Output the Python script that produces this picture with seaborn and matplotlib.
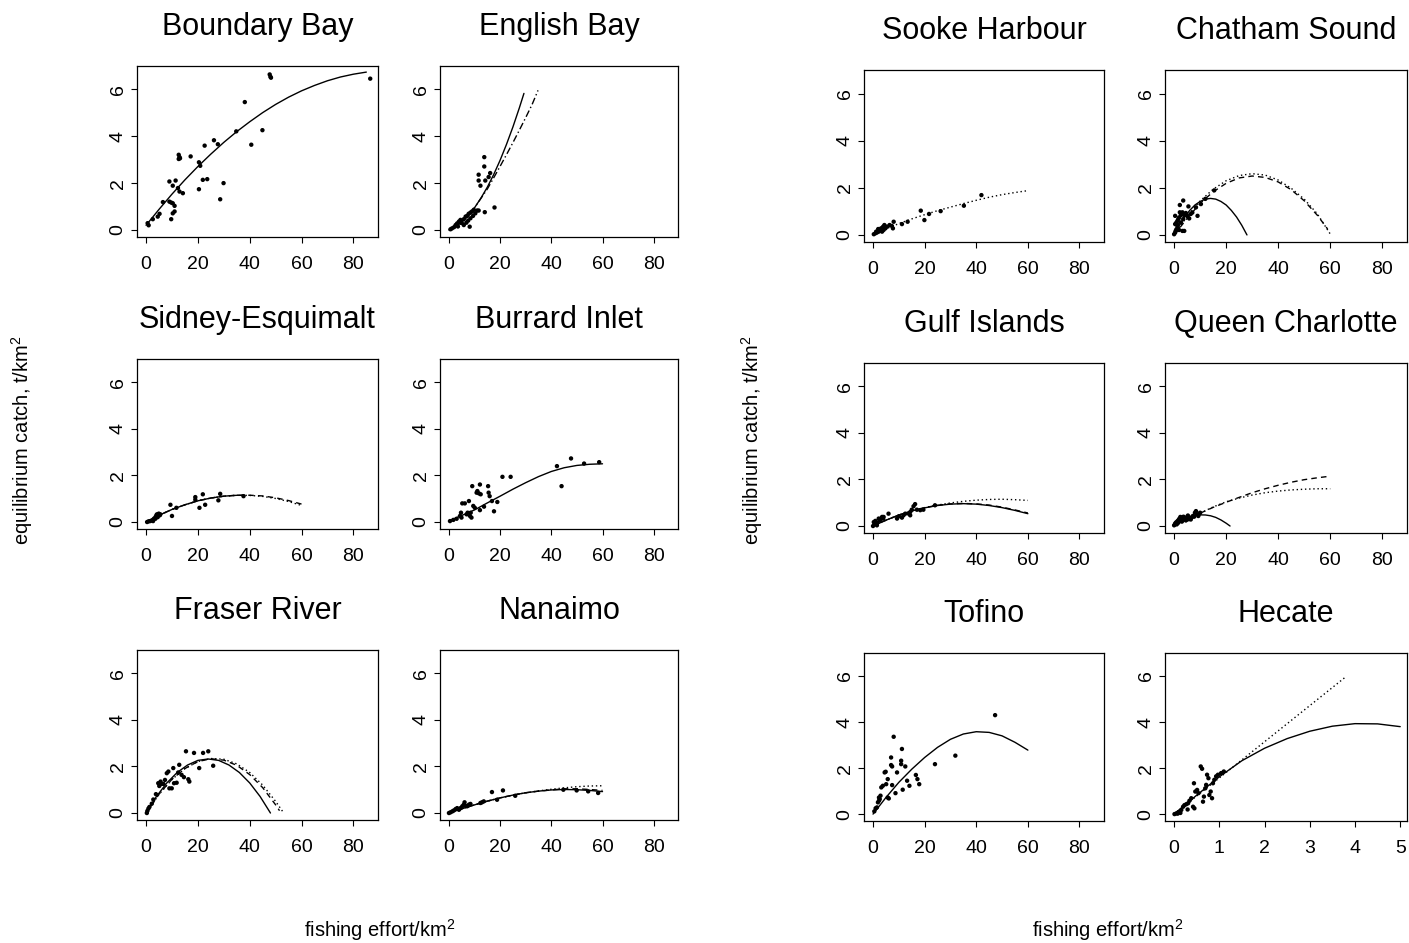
import matplotlib
matplotlib.use("Agg")
import matplotlib.pyplot as plt
import seaborn as sns

# ---------------- data ----------------
# Boundary Bay
bb_px = [0.6, 1.0, 2.6, 4.5, 5.2, 6.5, 9.0, 9.7, 10.3, 11.0, 10.3, 11.0, 9.7, 9.0, 10.3, 11.4, 12.3, 12.9, 14.2, 12.6,
         12.9, 12.6, 13.1, 17.2, 20.4, 20.9, 20.4, 21.9, 23.6, 22.6, 26.2, 27.7, 28.6, 29.9, 34.8, 38.1, 40.6, 44.9,
         47.7, 48.0, 48.2, 86.5]
bb_py = [0.29, 0.20, 0.46, 0.57, 0.69, 1.19, 1.21, 1.17, 1.14, 1.03, 0.71, 0.79, 0.46, 2.07, 1.89, 2.11, 1.79, 1.64,
         1.57, 3.21, 3.11, 3.03, 3.06, 3.14, 2.89, 2.74, 1.74, 2.14, 2.17, 3.60, 3.83, 3.66, 1.31, 2.00, 4.21, 5.46,
         3.64, 4.26, 6.64, 6.54, 6.50, 6.46]
bb_fx = [0, 5, 10, 15, 20, 25, 30, 35, 40, 45, 50, 55, 60, 65, 70, 75, 80, 85]
bb_fy = [0.2, 0.88, 1.53, 2.14, 2.71, 3.24, 3.74, 4.2, 4.62, 5.01, 5.36, 5.67, 5.94, 6.17, 6.37, 6.53, 6.65, 6.74]

# English Bay
eb_px = [0.6, 1.2, 2.6, 3.2, 3.9, 4.5, 4.5, 5.8, 6.5, 7.1, 7.7, 8.4, 9.0, 9.7, 8.1, 5.8, 6.8, 8.4, 9.4, 10.3, 11.0,
         11.6, 11.6, 12.3, 13.8, 13.8, 15.5, 16.1, 14.2, 14.0, 17.8, 11.6, 2.0, 3.5, 5.0, 7.5]
eb_py = [0.03, 0.07, 0.21, 0.28, 0.36, 0.43, 0.31, 0.46, 0.57, 0.60, 0.69, 0.74, 0.79, 0.86, 0.14, 0.21, 0.31, 0.50,
         0.60, 0.71, 0.83, 2.36, 2.11, 1.89, 3.11, 2.71, 2.26, 2.43, 2.11, 0.76, 0.96, 0.83, 0.12, 0.15, 0.30, 0.40]
eb_fx1 = [0, 2.5, 5, 7.5, 10, 12.5, 15, 17.5, 20, 22.5, 25, 27.5, 29.3]
eb_fy1 = [0, 0.14, 0.34, 0.61, 0.95, 1.36, 1.83, 2.37, 2.98, 3.66, 4.40, 5.21, 5.83]
eb_fx2 = [0, 5, 10, 15, 17.5, 20, 22.5, 25, 27.5, 30, 32.5, 34.8]
eb_fy2 = [0, 0.34, 0.95, 1.75, 2.23, 2.72, 3.22, 3.73, 4.26, 4.80, 5.36, 5.96]

# Sidney-Esquimalt
se_px = [0.4, 1.0, 1.6, 2.3, 3.0, 3.6, 4.0, 4.2, 4.9, 5.3, 5.5, 3.6, 4.5, 2.7, 9.4, 10.0, 11.7, 19.0, 19.0, 20.6,
         21.9, 22.8, 27.9, 28.6, 37.6]
se_py = [0.0, 0.03, 0.04, 0.07, 0.14, 0.21, 0.29, 0.33, 0.36, 0.29, 0.33, 0.14, 0.21, 0.04, 0.74, 0.26, 0.61, 1.07,
         0.96, 0.61, 1.19, 0.74, 0.93, 1.21, 1.11]
se_fx1 = [0, 5, 10, 15, 20, 25, 30, 35, 38]
se_fy1 = [0, 0.29, 0.54, 0.74, 0.91, 1.03, 1.11, 1.147, 1.145]
se_fx2 = [0, 5, 10, 15, 20, 25, 30, 35, 40, 45, 50, 55, 60]
se_fy2 = [0, 0.29, 0.54, 0.74, 0.91, 1.03, 1.11, 1.147, 1.142, 1.10, 1.01, 0.88, 0.71]
se_fy3 = [0, 0.29, 0.54, 0.74, 0.91, 1.03, 1.11, 1.15, 1.15, 1.12, 1.04, 0.92, 0.77]

# Burrard Inlet
bi_px = [0.4, 1.7, 3.0, 4.3, 4.7, 4.9, 5.2, 6.2, 6.9, 7.3, 7.8, 8.2, 8.5, 8.8, 9.1, 9.5, 10.1, 10.8, 11.1, 11.7,
         12.1, 12.4, 12.1, 13.7, 15.3, 15.5, 15.9, 16.8, 17.6, 18.9, 20.9, 24.1, 42.2, 44.0, 47.7, 52.8, 58.7]
bi_py = [0.04, 0.09, 0.14, 0.26, 0.40, 0.19, 0.80, 0.80, 0.33, 0.40, 0.90, 0.26, 0.40, 0.19, 1.54, 0.69, 0.61, 1.26,
         1.33, 1.23, 1.61, 1.19, 0.51, 0.66, 1.54, 1.26, 1.11, 0.90, 0.46, 0.86, 1.94, 1.94, 2.40, 1.54, 2.73, 2.51,
         2.57]
bi_fx = [0, 5, 10, 15, 20, 25, 30, 35, 40, 45, 50, 55, 60]
bi_fy = [0.05, 0.28, 0.52, 0.82, 1.11, 1.41, 1.69, 1.95, 2.17, 2.33, 2.43, 2.48, 2.50]

# Fraser River
fr_px = [0.3, 0.5, 0.9, 1.3, 2.2, 2.8, 3.8, 4.7, 5.1, 5.6, 6.0, 6.7, 7.3, 8.0, 8.6, 9.0, 9.9, 10.5, 10.8, 11.8,
         12.4, 12.8, 13.7, 14.6, 15.4, 16.3, 16.7, 18.5, 20.5, 22.0, 24.0, 25.9]
fr_py = [0.0, 0.09, 0.19, 0.26, 0.40, 0.58, 0.81, 1.28, 1.16, 1.35, 1.25, 1.25, 1.42, 1.71, 1.78, 1.06, 1.06, 1.93,
         1.28, 1.30, 1.74, 2.07, 1.64, 1.54, 2.65, 1.45, 1.35, 2.58, 1.93, 2.58, 2.65, 2.03]
fr_fx1 = [0, 4, 8, 12, 16, 20, 24, 28, 32, 36, 40, 44, 48]
fr_fy1 = [0, 0.71, 1.29, 1.74, 2.06, 2.26, 2.32, 2.26, 2.06, 1.74, 1.29, 0.71, 0]
fr_fx2 = [0, 5, 10, 15, 20, 25, 30, 35, 40, 45, 50, 53]
fr_fy2 = [0, 0.80, 1.44, 1.91, 2.21, 2.34, 2.31, 2.11, 1.74, 1.20, 0.50, 0.02]
fr_fx3 = [0, 5, 10, 15, 20, 25, 30, 35, 40, 45, 50, 51.5]
fr_fy3 = [0, 0.81, 1.45, 1.91, 2.21, 2.33, 2.27, 2.05, 1.65, 1.09, 0.35, 0.10]

# Nanaimo
na_px = [0.0, 0.6, 1.3, 1.9, 2.6, 3.2, 3.9, 4.5, 5.2, 5.8, 6.1, 6.5, 7.1, 7.8, 8.4, 12.3, 12.9, 13.6, 16.8, 18.8,
         21.1, 25.9, 44.7, 49.9, 54.4, 58.3]
na_py = [0.0, 0.03, 0.07, 0.11, 0.17, 0.21, 0.14, 0.21, 0.29, 0.36, 0.46, 0.31, 0.29, 0.36, 0.39, 0.43, 0.46, 0.50,
         0.90, 0.57, 0.97, 0.74, 1.00, 0.97, 0.93, 0.86]
na_fx = [0, 5, 10, 15, 20, 25, 30, 35, 40, 45, 50, 55, 60]
na_fy1 = [0, 0.18, 0.35, 0.51, 0.65, 0.77, 0.87, 0.94, 0.99, 1.01, 1.00, 0.97, 0.92]
na_fy2 = [0, 0.18, 0.35, 0.51, 0.65, 0.77, 0.87, 0.95, 1.02, 1.08, 1.13, 1.16, 1.17]
na_fy3 = [0, 0.18, 0.35, 0.51, 0.65, 0.77, 0.87, 0.94, 0.99, 1.04, 1.04, 1.01, 0.97]

# Sooke Harbour
sh_px = [0.3, 0.9, 1.5, 2.2, 2.6, 2.8, 3.1, 3.5, 3.9, 4.1, 4.4, 4.8, 5.4, 6.4, 7.3, 7.7, 8.0, 11.2, 13.4, 18.5,
         19.9, 21.7, 26.2, 35.2, 42.0, 1.2, 2.0]
sh_py = [0.03, 0.07, 0.10, 0.14, 0.18, 0.21, 0.28, 0.14, 0.35, 0.21, 0.42, 0.28, 0.35, 0.42, 0.38, 0.28, 0.56, 0.46,
         0.56, 1.03, 0.63, 0.89, 1.01, 1.24, 1.69, 0.14, 0.25]
sh_fx = [0, 5, 10, 15, 20, 25, 30, 35, 40, 45, 50, 55, 60]
sh_fy = [0, 0.26, 0.48, 0.68, 0.86, 1.03, 1.18, 1.33, 1.47, 1.60, 1.71, 1.80, 1.88]

# Chatham Sound
cs_px = [0.0, 0.4, 0.6, 0.9, 1.3, 0.4, 0.9, 1.3, 1.6, 1.9, 0.4, 2.6, 2.2, 3.2, 3.5, 3.9, 4.5, 5.1, 5.8, 5.5, 2.2,
         3.5, 1.9, 3.2, 3.9, 1.3, 2.6, 9.0, 8.4, 10.3, 12.0, 15.4, 6.4, 7.0]
cs_py = [0.03, 0.10, 0.17, 0.24, 0.35, 0.46, 0.53, 0.60, 0.67, 0.74, 0.81, 0.84, 0.96, 0.96, 0.67, 0.84, 0.93, 0.81,
         0.70, 1.21, 1.27, 1.46, 0.21, 0.17, 0.17, 0.43, 0.53, 0.81, 1.17, 1.31, 1.53, 1.89, 0.89, 0.95]
cs_fx1 = [0, 2, 4, 6, 8, 10, 12, 14, 16, 18, 20, 22, 24, 26, 28]
cs_fy1 = [0, 0.41, 0.76, 1.04, 1.27, 1.42, 1.52, 1.55, 1.52, 1.42, 1.27, 1.04, 0.76, 0.41, 0]
cs_fx2 = [0, 5, 10, 15, 20, 25, 30, 35, 40, 45, 50, 55, 60]
cs_fy2 = [0, 0.79, 1.44, 1.94, 2.30, 2.52, 2.60, 2.54, 2.33, 1.98, 1.52, 0.90, 0.04]
cs_fx3 = [0, 5, 10, 15, 20, 25, 30, 35, 40, 45, 50, 55, 59]
cs_fy3 = [0, 0.70, 1.34, 1.83, 2.19, 2.42, 2.50, 2.44, 2.25, 1.92, 1.45, 0.84, 0.25]

# Gulf Islands
gi_px = [0.0, 0.5, 0.9, 1.3, 1.5, 0.3, 0.9, 2.2, 3.5, 3.9, 4.1, 6.0, 9.3, 10.0, 11.2, 11.8, 12.5, 13.8, 14.4, 15.0,
         15.7, 16.3, 14.4, 17.0, 18.3, 19.5, 24.0, 1.8, 2.8]
gi_py = [0.0, 0.07, 0.13, 0.10, 0.03, 0.17, 0.22, 0.32, 0.39, 0.32, 0.39, 0.53, 0.32, 0.42, 0.36, 0.46, 0.53, 0.53,
         0.60, 0.70, 0.85, 0.94, 0.46, 0.70, 0.68, 0.70, 0.89, 0.15, 0.25]
gi_fx = [0, 5, 10, 15, 20, 25, 30, 35, 40, 45, 50, 55, 60]
gi_fy1 = [0, 0.25, 0.47, 0.65, 0.78, 0.88, 0.94, 0.96, 0.94, 0.88, 0.79, 0.67, 0.53]
gi_fy2 = [0, 0.25, 0.47, 0.65, 0.79, 0.90, 0.99, 1.06, 1.11, 1.14, 1.15, 1.13, 1.10]
gi_fy3 = [0, 0.25, 0.47, 0.65, 0.79, 0.89, 0.95, 0.97, 0.95, 0.90, 0.81, 0.69, 0.56]

# Queen Charlotte
qc_px = [0.0, 0.4, 0.8, 1.0, 1.3, 1.7, 2.0, 2.3, 2.6, 2.9, 3.3, 3.6, 3.8, 4.2, 4.6, 4.9, 5.1, 5.5, 5.9, 6.1, 6.7,
         7.2, 7.7, 8.0, 8.4, 8.9, 9.3, 9.7, 10.0, 1.5, 3.0, 4.5, 6.4, 2.4, 5.3]
qc_py = [0.03, 0.11, 0.16, 0.07, 0.21, 0.26, 0.31, 0.21, 0.29, 0.36, 0.29, 0.40, 0.29, 0.36, 0.26, 0.36, 0.31, 0.29,
         0.36, 0.31, 0.36, 0.43, 0.40, 0.57, 0.64, 0.50, 0.43, 0.53, 0.57, 0.13, 0.19, 0.24, 0.28, 0.39, 0.45]
qc_fx1 = [0, 2, 4, 6, 8, 10, 12, 14, 16, 18, 20, 21.5]
qc_fy1 = [0, 0.16, 0.29, 0.39, 0.45, 0.478, 0.474, 0.44, 0.37, 0.26, 0.12, 0.0]
qc_fx = [0, 5, 10, 15, 20, 25, 30, 35, 40, 45, 50, 55, 60]
qc_fy2 = [0, 0.30, 0.55, 0.80, 1.02, 1.23, 1.43, 1.60, 1.75, 1.88, 1.99, 2.07, 2.14]
qc_fy3 = [0, 0.30, 0.55, 0.82, 1.04, 1.20, 1.33, 1.43, 1.50, 1.55, 1.58, 1.60, 1.60]

# Tofino
to_px = [1.0, 1.5, 1.9, 2.3, 2.6, 2.3, 2.9, 3.2, 3.8, 4.5, 4.9, 5.1, 5.7, 5.7, 6.1, 7.0, 7.0, 7.4, 7.4, 8.0, 8.7,
         9.3, 10.9, 10.9, 11.2, 11.5, 12.5, 13.2, 14.1, 16.6, 17.2, 17.9, 24.0, 31.9, 47.3, 0.5]
to_py = [0.25, 0.29, 0.51, 0.58, 0.65, 0.72, 0.80, 1.16, 1.23, 1.81, 1.84, 1.30, 0.72, 1.52, 0.68, 2.46, 2.13, 2.07,
         1.26, 3.36, 0.91, 1.81, 2.17, 2.32, 2.83, 1.06, 2.07, 1.45, 1.23, 1.70, 1.52, 1.30, 2.17, 2.54, 4.30, 0.12]
to_fx = [0, 5, 10, 15, 20, 25, 30, 35, 40, 45, 50, 55, 60]
to_fy = [0, 0.72, 1.38, 1.95, 2.46, 2.90, 3.25, 3.48, 3.58, 3.55, 3.40, 3.12, 2.78]

# Hecate
he_px = [0.01, 0.05, 0.09, 0.12, 0.16, 0.20, 0.23, 0.27, 0.31, 0.34, 0.38, 0.42, 0.45, 0.44, 0.47, 0.51, 0.54, 0.59,
         0.62, 0.64, 0.66, 0.69, 0.71, 0.73, 0.76, 0.78, 0.81, 0.84, 0.86, 0.89, 0.93, 0.97, 1.04, 1.10, 0.08, 0.14,
         0.30]
he_py = [0.0, 0.03, 0.07, 0.10, 0.18, 0.32, 0.39, 0.43, 0.47, 0.58, 0.69, 0.32, 0.25, 1.34, 0.98, 1.05, 0.91, 2.07,
         1.97, 0.54, 0.76, 1.12, 1.27, 1.71, 1.56, 0.83, 0.98, 0.69, 1.34, 1.49, 1.64, 1.71, 1.78, 1.85, 0.02, 0.05,
         0.20]
he_fx1 = [0, 0.5, 1, 1.5, 2, 2.5, 3, 3.5, 4, 4.5, 5]
he_fy1 = [0, 0.82, 1.62, 2.32, 2.86, 3.28, 3.60, 3.82, 3.93, 3.92, 3.80]
he_fx2 = [0, 3.8]
he_fy2 = [0, 5.97]

# tick labels
effort_ticks = [0, 20, 40, 60, 80]
hecate_ticks = [0, 1, 2, 3, 4, 5]
catch_ticks = [0, 2, 4, 6]

# ---------------- styling ----------------
sns.set_style("ticks")
plt.rcParams['font.family'] = ['Liberation Sans', 'DejaVu Sans']
plt.rcParams['mathtext.fontset'] = 'custom'
plt.rcParams['mathtext.rm'] = 'Liberation Sans'
plt.rcParams['text.color'] = 'black'
plt.rcParams['axes.labelcolor'] = 'black'
plt.rcParams['xtick.color'] = 'black'
plt.rcParams['ytick.color'] = 'black'

LS = {'solid': '-', 'dashed': (0, (4, 3)), 'dotted': (0, (1, 2)), 'dashdot': (0, (5, 2, 1, 2))}

W, H = 1409, 943
fig = plt.figure(figsize=(W / 100, H / 100), dpi=100)

COLS = {'L1': (137, 378), 'L2': (440, 678), 'R1': (864, 1104), 'R2': (1165, 1407)}
ROWS_L = [(66, 237), (359, 529), (650, 820)]
ROWS_R = [(70, 242), (363, 533), (653, 821)]

panels = [
    ("Boundary Bay", 'L1', ROWS_L[0], bb_px, bb_py, [(bb_fx, bb_fy, 'solid')], 'e'),
    ("English Bay", 'L2', ROWS_L[0], eb_px, eb_py, [(eb_fx1, eb_fy1, 'solid'), (eb_fx2, eb_fy2, 'dashdot')], 'e'),
    ("Sidney-Esquimalt", 'L1', ROWS_L[1], se_px, se_py,
     [(se_fx1, se_fy1, 'solid'), (se_fx2, se_fy2, 'dotted'), (se_fx2, se_fy3, 'dashed')], 'e'),
    ("Burrard Inlet", 'L2', ROWS_L[1], bi_px, bi_py, [(bi_fx, bi_fy, 'solid')], 'e'),
    ("Fraser River", 'L1', ROWS_L[2], fr_px, fr_py,
     [(fr_fx1, fr_fy1, 'solid'), (fr_fx2, fr_fy2, 'dotted'), (fr_fx3, fr_fy3, 'dashed')], 'e'),
    ("Nanaimo", 'L2', ROWS_L[2], na_px, na_py,
     [(na_fx, na_fy1, 'solid'), (na_fx, na_fy2, 'dotted'), (na_fx, na_fy3, 'dashed')], 'e'),
    ("Sooke Harbour", 'R1', ROWS_R[0], sh_px, sh_py, [(sh_fx, sh_fy, 'dotted')], 'e'),
    ("Chatham Sound", 'R2', ROWS_R[0], cs_px, cs_py,
     [(cs_fx1, cs_fy1, 'solid'), (cs_fx2, cs_fy2, 'dotted'), (cs_fx3, cs_fy3, 'dashed')], 'e'),
    ("Gulf Islands", 'R1', ROWS_R[1], gi_px, gi_py,
     [(gi_fx, gi_fy1, 'solid'), (gi_fx, gi_fy2, 'dotted'), (gi_fx, gi_fy3, 'dashed')], 'e'),
    ("Queen Charlotte", 'R2', ROWS_R[1], qc_px, qc_py,
     [(qc_fx1, qc_fy1, 'solid'), (qc_fx, qc_fy2, 'dashed'), (qc_fx, qc_fy3, 'dotted')], 'e'),
    ("Tofino", 'R1', ROWS_R[2], to_px, to_py, [(to_fx, to_fy, 'solid')], 'e'),
    ("Hecate", 'R2', ROWS_R[2], he_px, he_py, [(he_fx1, he_fy1, 'solid'), (he_fx2, he_fy2, 'dotted')], 'h'),
]

for title, col, (y0, y1), px, py, fits, kind in panels:
    x0, x1 = COLS[col]
    ax = fig.add_axes([x0 / W, 1 - y1 / H, (x1 - x0) / W, (y1 - y0) / H])
    for fx, fy, style in fits:
        sns.lineplot(x=fx, y=fy, ax=ax, color='black', linewidth=1.0, sort=False,
                     estimator=None, linestyle=LS[style])
    sns.scatterplot(x=px, y=py, ax=ax, color='black', s=10, linewidth=0, edgecolor='none')
    if kind == 'h':
        ax.set_xlim(-0.2, 5.15)
        ax.set_xticks(hecate_ticks)
    else:
        ax.set_xlim(-3.5, 89.5)
        ax.set_xticks(effort_ticks)
    ax.set_ylim(-0.3, 7.0)
    ax.set_yticks(catch_ticks)
    ax.set_xlabel('')
    ax.set_ylabel('')
    for sp in ax.spines.values():
        sp.set_visible(True)
        sp.set_linewidth(0.9)
        sp.set_color('black')
    ax.tick_params(axis='both', direction='out', length=4, width=0.8,
                   labelsize=14, colors='black')
    ax.tick_params(axis='x', pad=9.5)
    ax.tick_params(axis='y', labelrotation=90, pad=3.5)
    for lab in ax.get_yticklabels():
        lab.set_va('center')
    ax.annotate(title, xy=(0.5, 1.0), xycoords='axes fraction', xytext=(0, 28),
                textcoords='offset points', ha='center', va='center', fontsize=22, color='black')

fig.text(22 / W, 1 - 440 / H, 'equilibrium catch, t/km$^\\mathregular{2}$', rotation=90,
         ha='center', va='center', fontsize=14.5, color='black')
fig.text(752 / W, 1 - 440 / H, 'equilibrium catch, t/km$^\\mathregular{2}$', rotation=90,
         ha='center', va='center', fontsize=14.5, color='black')
fig.text(380 / W, 1 - 937 / H, 'fishing effort/km$^\\mathregular{2}$', ha='center', va='baseline',
         fontsize=14.5, color='black')
fig.text(1108 / W, 1 - 937 / H, 'fishing effort/km$^\\mathregular{2}$', ha='center', va='baseline',
         fontsize=14.5, color='black')

fig.savefig('out.png', dpi=100)
